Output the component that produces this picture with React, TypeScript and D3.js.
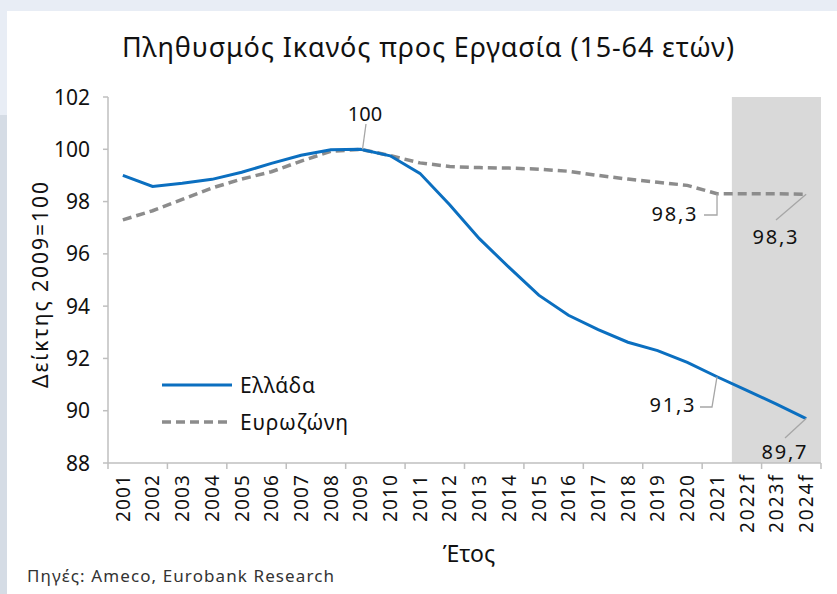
import * as d3 from "d3"
import React from "react"

const years = [
  "2001", "2002", "2003", "2004", "2005", "2006", "2007", "2008", "2009", "2010",
  "2011", "2012", "2013", "2014", "2015", "2016", "2017", "2018", "2019", "2020",
  "2021", "2022f", "2023f", "2024f",
]

const greece = [
  99.0, 98.58, 98.7, 98.85, 99.12, 99.46, 99.77, 99.98, 100.0, 99.75,
  99.08, 97.88, 96.58, 95.48, 94.42, 93.65, 93.1, 92.62, 92.3, 91.85,
  91.3, 90.78, 90.25, 89.7,
]

const eurozone = [
  97.3, 97.65, 98.08, 98.52, 98.86, 99.14, 99.55, 99.92, 100.0, 99.76,
  99.48, 99.34, 99.3, 99.28, 99.24, 99.16, 99.0, 98.86, 98.74, 98.62,
  98.3, 98.3, 98.3, 98.28,
]

const yTicks = [88, 90, 92, 94, 96, 98, 100, 102]
const forecastYears = ["2022f", "2023f", "2024f"]

const font = "'Noto Sans', 'Open Sans', sans-serif"
const W = 837
const H = 594
const margin = { left: 108, right: 16, top: 97, bottom: 131 }
const blue = "#0b6fc0"
const grey = "#8c8c8c"

const App = () => {
  const x = d3
    .scaleBand()
    .domain(years)
    .range([margin.left, W - margin.right])
  const y = d3
    .scaleLinear()
    .domain([88, 102])
    .range([H - margin.bottom, margin.top])

  const cx = (d) => x(d) + x.bandwidth() / 2
  const line = d3
    .line()
    .x((d, i) => cx(years[i]))
    .y((d) => y(d))

  const bottom = H - margin.bottom
  const tickYears = years.filter((d, i) => i % 2 === 0)
  const gx0 = x(forecastYears[0])
  const gx1 = x(forecastYears[2]) + x.bandwidth()

  const last = years.length - 1
  const i21 = years.indexOf("2021")
  const i09 = years.indexOf("2009")

  return (
    <svg width={W} height={H} style={{ display: "block", position: "absolute", left: 0, top: 0 }}>
      <rect x={0} y={0} width={W} height={H} fill="#e8edf5" />
      <rect x={0} y={115} width={7} height={H - 115} fill="#d5dce5" />
      <rect x={7} y={11} width={W - 7} height={H - 11} fill="#ffffff" />

      <text x={428} y={57} textAnchor="middle" fontFamily={font} fontSize={27} fill="#111" textLength={612}>
        Πληθυσμός Ικανός προς Εργασία (15-64 ετών)
      </text>

      {/* forecast band */}
      <rect x={gx0} y={margin.top} width={gx1 - gx0} height={bottom - margin.top} fill="#d9d9d9" />

      {/* y axis */}
      <line x1={margin.left} x2={margin.left} y1={margin.top} y2={bottom} stroke="#bfbfbf" strokeWidth={1.5} />
      {yTicks.map((t) => (
        <g key={t}>
          <line x1={margin.left - 5} x2={margin.left} y1={y(t)} y2={y(t)} stroke="#bfbfbf" strokeWidth={1.5} />
          <text x={margin.left - 18} y={y(t)} dy="0.36em" textAnchor="end" fontFamily={font} fontSize={21} fill="#111">
            {t}
          </text>
        </g>
      ))}
      <text
        transform={`translate(48,285) rotate(-90)`}
        textAnchor="middle"
        fontFamily={font}
        fontSize={21}
        fill="#111"
        textLength={206}
      >
        Δείκτης 2009=100
      </text>

      {/* x axis */}
      <line x1={margin.left} x2={W - margin.right} y1={bottom} y2={bottom} stroke="#bfbfbf" strokeWidth={1.5} />
      {tickYears.map((d) => (
        <line key={d} x1={x(d)} x2={x(d)} y1={bottom} y2={bottom + 6} stroke="#bfbfbf" strokeWidth={1.5} />
      ))}
      <line x1={gx1} x2={gx1} y1={bottom} y2={bottom + 6} stroke="#bfbfbf" strokeWidth={1.5} />
      {years.map((d) => (
        <text
          key={d}
          transform={`translate(${cx(d)},${bottom + 12}) rotate(-90)`}
          dy="0.36em"
          textAnchor="end"
          fontFamily={font}
          fontSize={19}
          fill="#111"
          textLength={d.length > 4 ? 58 : 47}
        >
          {d}
        </text>
      ))}
      <text x={469} y={562} textAnchor="middle" fontFamily={font} fontSize={23} fill="#111">
        Έτος
      </text>

      {/* series */}
      <path d={line(eurozone)} fill="none" stroke={grey} strokeWidth={3.5} strokeDasharray="9,5" />
      <path d={line(greece)} fill="none" stroke={blue} strokeWidth={3} />

      {/* data labels */}
      <g stroke="#a6a6a6" strokeWidth={1.3} fill="none">
        <line x1={366} y1={124} x2={cx(years[i09]) + 2} y2={y(100)} />
        <polyline points={`704,215 ${cx(years[i21])},215 ${cx(years[i21])},${y(eurozone[i21])}`} />
        <line x1={776} y1={220} x2={cx(years[last])} y2={y(eurozone[last])} />
        <polyline points={`700,407 712,407 ${cx(years[i21])},${y(greece[i21])}`} />
        <line x1={785} y1={438} x2={cx(years[last])} y2={y(greece[last])} />
      </g>
      <g fontFamily={font} fontSize={20} fill="#111" textAnchor="middle">
        <text x={365} y={114} dy="0.36em">100</text>
        <text x={674} y={214} dy="0.36em" textLength={45}>98,3</text>
        <text x={775} y={237} dy="0.36em" textLength={45}>98,3</text>
        <text x={672} y={405} dy="0.36em" textLength={45}>91,3</text>
        <text x={784} y={452} dy="0.36em" textLength={45}>89,7</text>
      </g>

      {/* legend */}
      <line x1={162} x2={232} y1={385} y2={385} stroke={blue} strokeWidth={3} />
      <text x={240} y={385} dy="0.36em" fontFamily={font} fontSize={21} fill="#111" textLength={75}>Ελλάδα</text>
      <line x1={162} x2={232} y1={422} y2={422} stroke={grey} strokeWidth={3.5} strokeDasharray="9,5" />
      <text x={240} y={422} dy="0.36em" fontFamily={font} fontSize={21} fill="#111" textLength={108}>Ευρωζώνη</text>

      <text x={27} y={582} fontFamily={font} fontSize={17} fill="#333" textLength={307}>
        Πηγές: Ameco, Eurobank Research
      </text>
    </svg>
  )
}

export default App
